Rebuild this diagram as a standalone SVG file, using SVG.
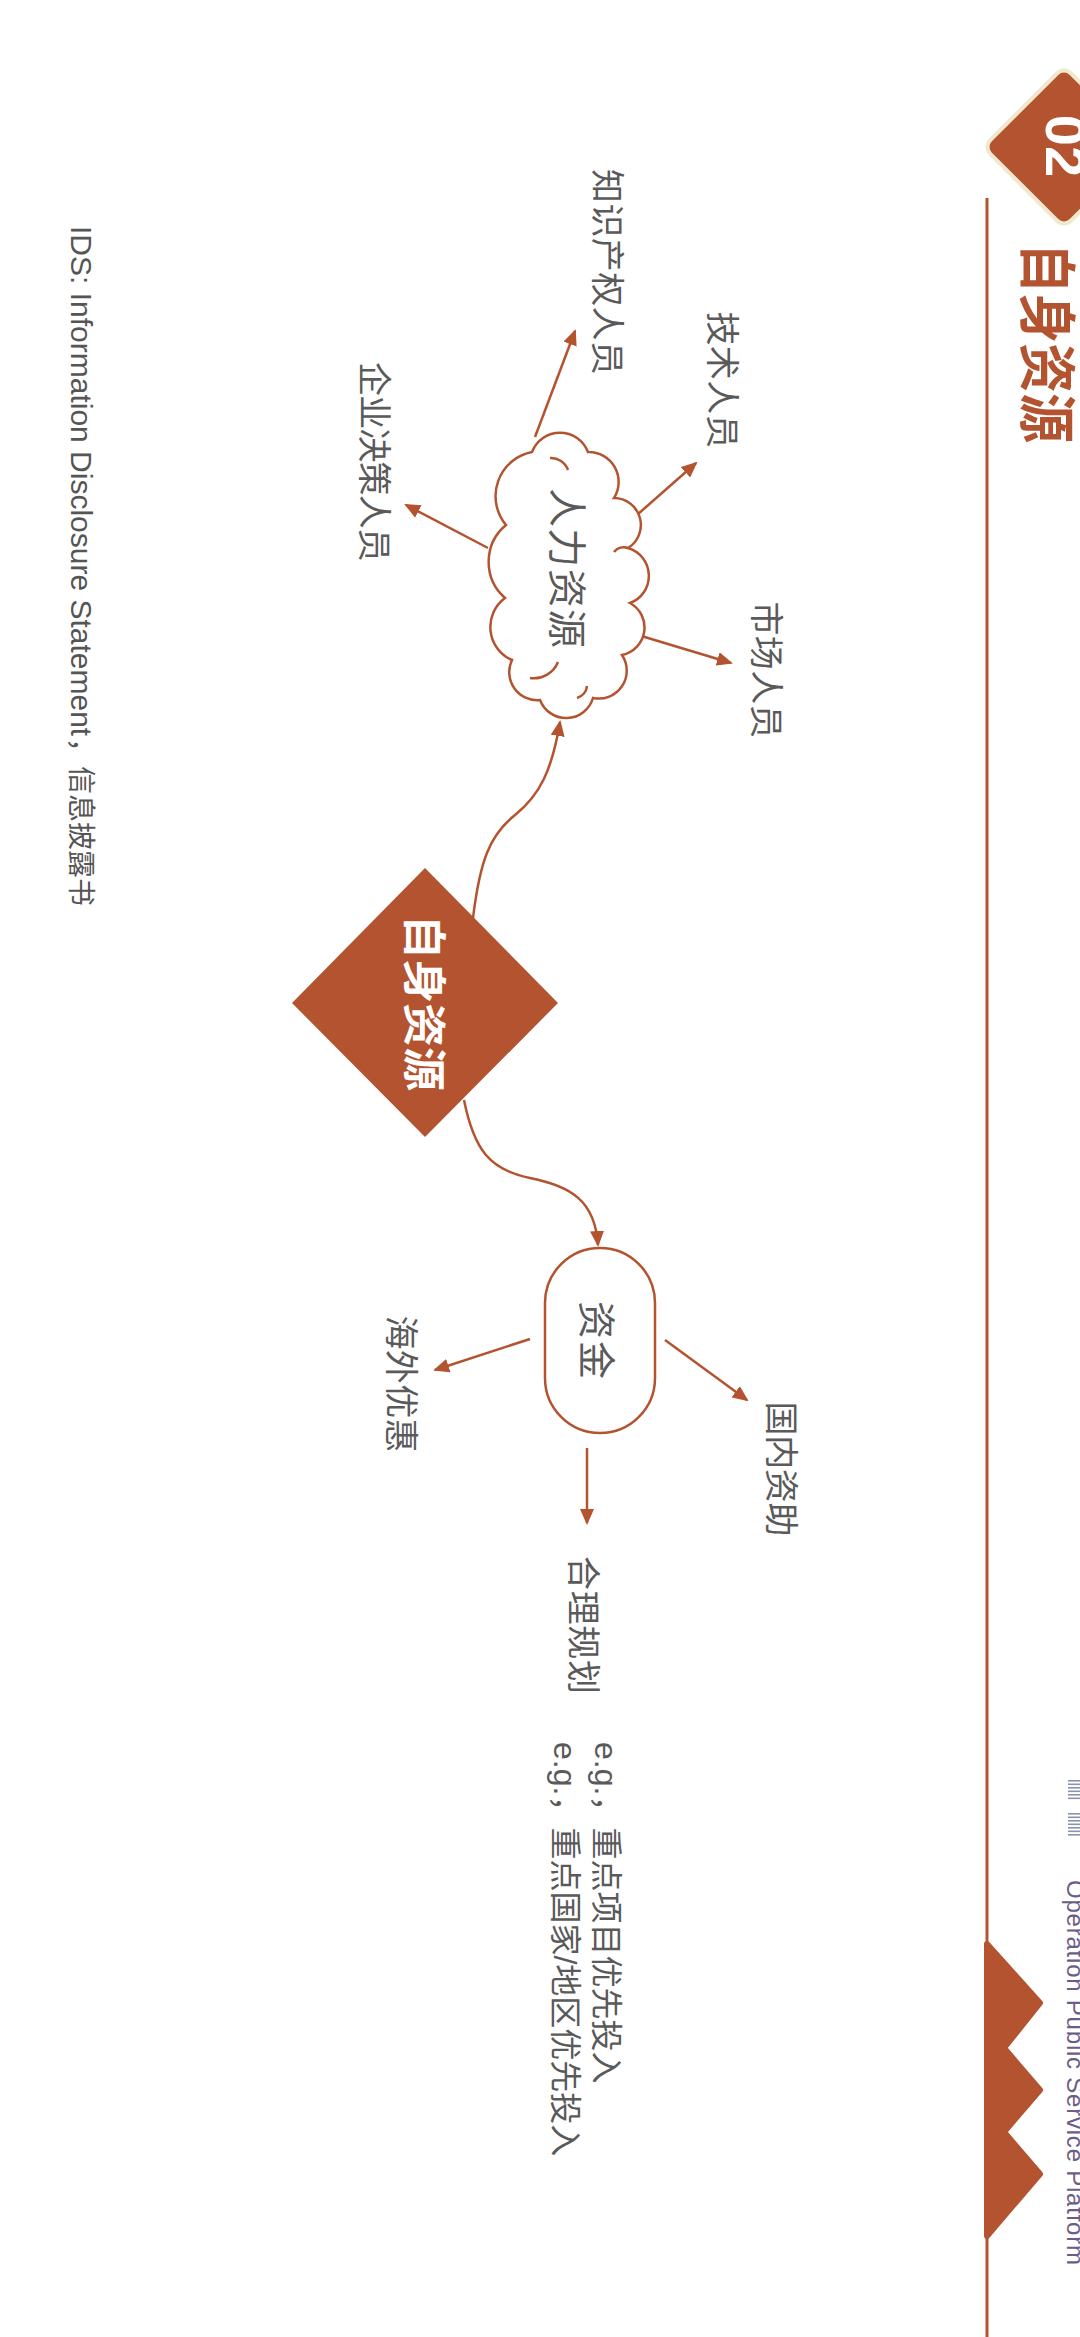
<svg xmlns="http://www.w3.org/2000/svg" width="1080" height="2337" viewBox="0 0 1080 2337">
<defs>
<style>
.lbl{font-family:"Noto Sans CJK SC","Liberation Sans",sans-serif;fill:#5a5a5a;dominant-baseline:central;text-anchor:middle}
.con{fill:none;stroke:#B4532F;stroke-width:2.5}
.brown{fill:#B4532F}
.stripe{fill:#8B93AD}
.tick{fill:none;stroke:#B4532F;stroke-width:2.5}
</style>
<marker id="ah" markerUnits="userSpaceOnUse" viewBox="0 0 16 14" markerWidth="16" markerHeight="14" refX="14" refY="7" orient="auto">
<path d="M0,0 L16,7 L0,14 Z" fill="#B4532F"/>
</marker>
</defs>
<rect width="1080" height="2337" fill="#ffffff"/>
<g transform="translate(1080 0) rotate(90)">

<g id="header">
<rect x="90" y="-41" width="114" height="114" rx="10" transform="rotate(45 147 16)" class="brown" stroke="#F1E9CF" stroke-width="4"/>
<text x="146" y="34" font-family="Liberation Sans, sans-serif" font-size="56" font-weight="bold" fill="#ffffff" text-anchor="middle">02</text>
<text x="243" y="29" font-family="Noto Sans CJK SC, sans-serif" font-size="58" font-weight="bold" fill="#B4532F" dominant-baseline="central" textLength="200" lengthAdjust="spacingAndGlyphs">自身资源</text>
<line x1="198" y1="93" x2="2337" y2="93" stroke="#B4532F" stroke-width="3"/>
</g>

<g id="branding">
<g id="logo-marks">
<rect class="stripe" x="1780" y="0" width="1.6" height="12"/>
<rect class="stripe" x="1783.5" y="0" width="1.6" height="12"/>
<rect class="stripe" x="1787" y="0" width="1.6" height="12"/>
<rect class="stripe" x="1790.5" y="0" width="1.6" height="12"/>
<rect class="stripe" x="1794" y="0" width="1.6" height="12"/>
<rect class="stripe" x="1797.5" y="0" width="1.6" height="12"/>
<rect class="stripe" x="1813" y="0" width="1.6" height="12"/>
<rect class="stripe" x="1816.5" y="0" width="1.6" height="12"/>
<rect class="stripe" x="1820" y="0" width="1.6" height="12"/>
<rect class="stripe" x="1823.5" y="0" width="1.6" height="12"/>
<rect class="stripe" x="1827" y="0" width="1.6" height="12"/>
<rect class="stripe" x="1830.5" y="0" width="1.6" height="12"/>
<rect class="stripe" x="1834" y="0" width="1.6" height="12"/>
</g>
<text x="1880" y="13" font-family="Liberation Sans, sans-serif" font-size="24" fill="#6B5D84" textLength="385">Operation Public Service Platform</text>
<path d="M1944,93 L2003,40 L2048,76 L2090,40 L2132,76 L2174,40 L2236,93 Z" class="brown" stroke="#B4532F" stroke-width="6" stroke-linejoin="round"/>
</g>

<g id="connectors">
<path class="con" marker-end="url(#ah)" d="M437,545 L331,505"/>
<path class="con" marker-end="url(#ah)" d="M522,451 L463,384"/>
<path class="con" marker-end="url(#ah)" d="M548,592 L505,674"/>
<path class="con" marker-end="url(#ah)" d="M635,442 L663,349"/>
<path class="con" marker-end="url(#ah)" d="M918,607 C860,600 835,590 815,565 S770,528 722,520"/>
<path class="con" marker-end="url(#ah)" d="M1100,616 C1150,606 1170,590 1178,550 S1200,485 1245,482"/>
<path class="con" marker-end="url(#ah)" d="M1340,415 L1400,333"/>
<path class="con" marker-end="url(#ah)" d="M1339,550 L1370,645"/>
<path class="con" marker-end="url(#ah)" d="M1448,493 L1523,493"/>
</g>

<g id="node-hr">
<path d="M452,548 A30,30 0 0 1 452,492 A30,30 0 0 1 498,466 A27,27 0 0 1 548,452 A29,29 0 0 1 603,450 A28,28 0 0 1 655,458 A28,28 0 0 1 698,487 A28,28 0 0 1 700,540 A28,28 0 0 1 660,568 A36,36 0 0 1 598,575 A48,48 0 0 1 525,574 A45,45 0 0 1 452,548 Z" fill="#ffffff" stroke="#B4532F" stroke-width="2.5"/>
<path class="tick" d="M458,530 A18,18 0 0 1 470,512"/>
<path class="tick" d="M548,452 A12,12 0 0 0 552,466"/>
<path class="tick" d="M662,522 A26,26 0 0 1 678,550"/>
<path class="tick" d="M698,503 A14,14 0 0 0 686,493"/>
<text class="lbl" x="568" y="510" font-size="39" textLength="160">人力资源</text>
</g>

<g id="node-ip"><text class="lbl" x="272" y="471" font-size="34" textLength="206">知识产权人员</text></g>
<g id="node-tech"><text class="lbl" x="380" y="356" font-size="34" textLength="137">技术人员</text></g>
<g id="node-exec"><text class="lbl" x="462" y="704" font-size="34" textLength="200">企业决策人员</text></g>
<g id="node-market"><text class="lbl" x="670" y="312" font-size="34" textLength="137">市场人员</text></g>

<g id="node-main">
<polygon points="868,655 1003,522 1137,655 1003,788" class="brown"/>
<text class="lbl" x="1003" y="653" font-size="44" font-weight="bold" style="fill:#ffffff" textLength="176">自身资源</text>
</g>

<g id="node-fund">
<rect x="1248" y="425" width="185" height="110" rx="55" fill="#ffffff" stroke="#B4532F" stroke-width="2.5"/>
<text class="lbl" x="1340" y="481" font-size="38" textLength="78">资金</text>
</g>

<g id="node-domestic"><text class="lbl" x="1469" y="297" font-size="34" textLength="135">国内资助</text></g>
<g id="node-overseas"><text class="lbl" x="1384" y="677" font-size="34" textLength="137">海外优惠</text></g>
<g id="node-plan"><text class="lbl" x="1625" y="495" font-size="34" textLength="138">合理规划</text></g>

<g id="examples">
<text x="1742" y="474" font-family="Liberation Sans, Noto Sans CJK SC, sans-serif" font-size="32" fill="#5a5a5a" dominant-baseline="central">e.g.，重点项目优先投入</text>
<text x="1742" y="515" font-family="Liberation Sans, Noto Sans CJK SC, sans-serif" font-size="32" fill="#5a5a5a" dominant-baseline="central">e.g.，重点国家/地区优先投入</text>
</g>

<g id="footnote">
<text x="226" y="1009" font-family="Liberation Sans, Noto Sans CJK SC, sans-serif" font-size="30" fill="#555555">IDS: Information Disclosure Statement</text>
<text x="738" y="1009" font-family="Noto Sans CJK SC, sans-serif" font-size="28" fill="#555555">，</text>
<text x="766" y="1009" font-family="Noto Sans CJK SC, sans-serif" font-size="28" fill="#555555">信息披露书</text>
</g>

</g>
</svg>
